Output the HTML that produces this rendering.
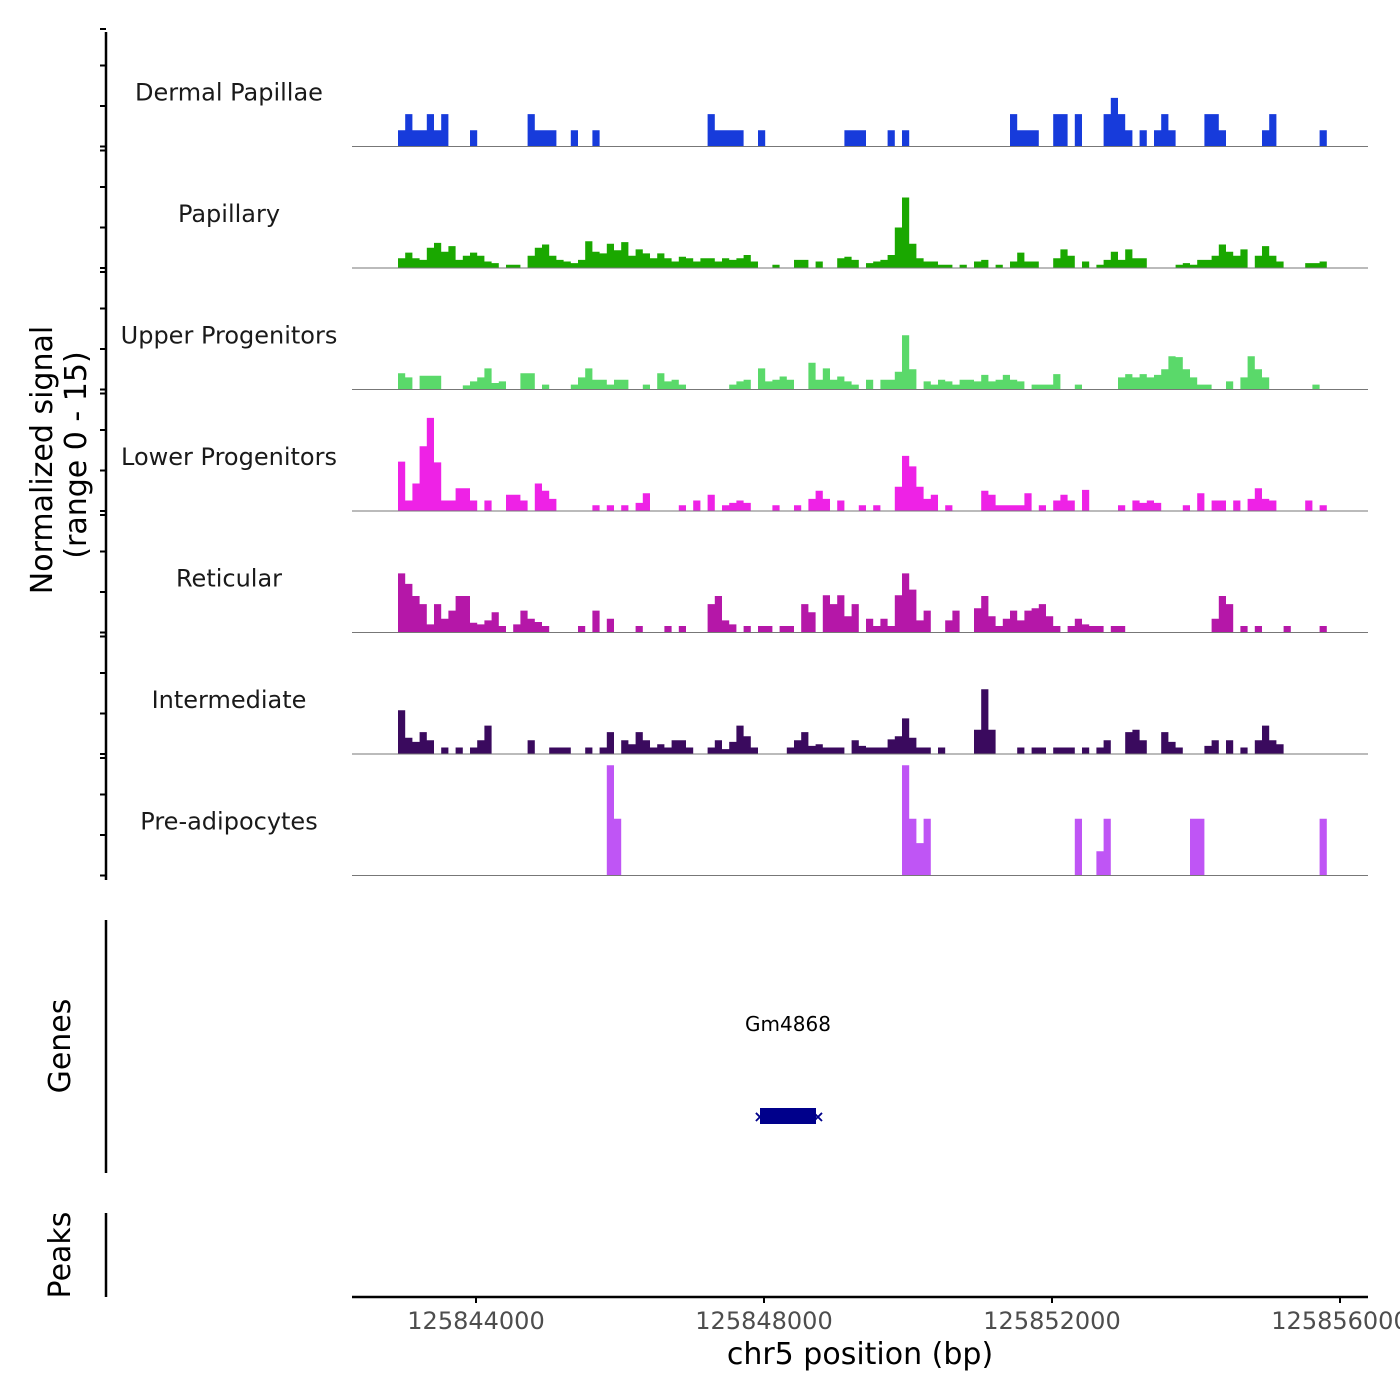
<!DOCTYPE html>
<html><head><meta charset="utf-8">
<style>
body{margin:0;background:#fff;}
svg{display:block;font-family:"DejaVu Sans","Liberation Sans",sans-serif;}
</style></head>
<body>
<svg id="chart" width="1400" height="1400" viewBox="0 0 1400 1400" xmlns="http://www.w3.org/2000/svg">
<g id="tracks"></g>
<g id="axes"></g>
<text transform="translate(52,460) rotate(-90)" text-anchor="middle" font-size="30" fill="#000">Normalized signal</text>
<text transform="translate(86,455) rotate(-90)" text-anchor="middle" font-size="30" fill="#000">(range 0 - 15)</text>
<text transform="translate(70,1046) rotate(-90)" text-anchor="middle" font-size="30" fill="#000">Genes</text>
<text transform="translate(70,1255) rotate(-90)" text-anchor="middle" font-size="30" fill="#000">Peaks</text>
<line x1="106" y1="920" x2="106" y2="1173" stroke="#000" stroke-width="2.5"/>
<line x1="106" y1="1213" x2="106" y2="1297" stroke="#000" stroke-width="2.5"/>
<text x="788" y="1031" text-anchor="middle" font-size="20" fill="#000">Gm4868</text>
<rect x="760" y="1108" width="56" height="16" fill="#00008b"/>
<text x="818" y="1122" text-anchor="middle" font-size="16" font-weight="bold" fill="#00008b">×</text>
<text x="760" y="1122" text-anchor="middle" font-size="16" font-weight="bold" fill="#00008b">×</text>
<text x="860" y="1364" text-anchor="middle" font-size="30" fill="#000">chr5 position (bp)</text>
</svg>
<script>
const trackNames = ["Dermal Papillae","Papillary","Upper Progenitors","Lower Progenitors","Reticular","Intermediate","Pre-adipocytes"];
const trackColors = ["#173bdb","#1aa800","#5ad96a","#ee22e6","#b517a8","#3a0a5e","#bf55f5"];
const xTicks = [125844000,125848000,125852000,125856000];
const binStart = 125842917;
const binSize = 100;
const NB = 129;
const dermalPapillae = {0:2,1:4,2:2,3:2,4:4,5:2,6:4,10:2,18:4,19:2,20:2,21:2,24:2,27:2,43:4,44:2,45:2,46:2,47:2,50:2,62:2,63:2,64:2,68:2,70:2,85:4,86:2,87:2,88:2,91:4,92:4,94:4,98:4,99:6,100:4,101:2,103:2,105:2,106:4,107:2,112:4,113:4,114:2,120:2,121:4,128:2};
const papillary = {0:1.2,1:1.9,2:1.2,3:1,4:2.5,5:3.1,6:2,7:2.7,8:1,9:1.5,10:1.9,11:1.5,12:0.8,13:0.6,15:0.4,16:0.4,18:1.5,19:2.5,20:2.9,21:1.5,22:1,23:0.8,24:0.6,25:1,26:3.3,27:2,28:1.8,29:3,30:2.2,31:3.2,32:1.5,33:2.3,34:1.8,35:1.2,36:1.8,37:1.2,38:0.8,39:1.4,40:1.2,41:0.8,42:1.2,43:1.2,44:0.8,45:1.2,46:1,47:1.2,48:1.6,49:0.8,52:0.4,55:1,56:1,58:0.8,61:1.2,62:1.4,63:1,65:0.6,66:0.8,67:1,68:1.6,69:5,70:8.7,71:3,72:1.2,73:0.8,74:0.8,75:0.4,76:0.4,78:0.4,80:0.8,81:1,83:0.4,85:0.8,86:1.9,87:0.8,88:0.8,91:1.2,92:2.3,93:1.5,95:0.8,97:0.4,98:1,99:2,100:1,101:2.3,102:1.2,103:1.2,108:0.4,109:0.6,110:0.4,111:1,112:1,113:1.5,114:2.9,115:2,116:1.5,117:2.3,119:1.5,120:2.7,121:1.5,122:0.8,126:0.6,127:0.6,128:0.8};
const upperProgenitors = {0:2,1:1.5,3:1.7,4:1.7,5:1.7,9:0.5,10:1,11:1.5,12:2.6,13:0.8,14:1,17:2,18:2,20:0.6,24:0.6,25:1.5,26:2.6,27:1.2,28:1.2,29:0.6,30:1.2,31:1.2,34:0.6,36:2,37:1,38:1.2,39:0.6,46:0.6,47:1,48:1.2,50:2.6,51:1,52:1.2,53:1.6,54:1.2,57:3.3,58:1.2,59:2.6,60:1.2,61:1.6,62:1,63:0.6,65:1.2,67:1.2,68:1.2,69:2.2,70:6.7,71:2.5,73:1,74:0.6,75:1.2,76:1,77:0.6,78:1.2,79:1.2,80:1,81:1.8,82:1,83:1.2,84:1.8,85:1.2,86:1,88:0.6,89:0.6,90:0.6,91:1.9,94:0.6,100:1.5,101:1.9,102:1.5,103:1.9,104:1.5,105:1.8,106:2.5,107:4.1,108:4,109:2.5,110:1.5,111:0.6,112:0.6,115:1,117:1.5,118:4.1,119:2.5,120:1.5,127:0.6};
const lowerProgenitors = {0:6.1,1:1.3,2:3.4,3:8,4:11.5,5:6,6:1.3,7:1.3,8:2.8,9:2.8,10:1.3,12:1.3,15:2,16:2,17:1.3,19:3.4,20:2.5,21:1.5,27:0.7,29:0.7,31:0.7,33:1,34:2.2,39:0.7,41:1.3,43:2,45:0.7,46:1,47:1.3,48:1,52:0.7,55:0.7,57:1.5,58:2.5,59:1.5,61:1.3,64:0.7,66:0.7,69:3,70:6.8,71:5.5,72:3,73:1.5,74:2,76:0.7,81:2.5,82:2,83:0.7,84:0.7,85:0.7,86:0.7,87:2.2,89:0.7,91:1.3,92:2,93:1.3,95:2.6,100:0.7,102:1.3,103:1,104:1.3,105:1,109:0.7,111:2.2,113:1.3,114:1.3,116:1.3,118:1.5,119:2.8,120:1.5,121:1.3,126:1.3,128:0.7};
const reticular = {0:7.3,1:6,2:4.5,3:3.5,4:1,5:3.5,6:1.7,7:2.7,8:4.5,9:4.5,10:1.2,11:1,12:1.5,13:2.5,14:0.8,16:1,17:2.7,18:1.7,19:1.3,20:0.8,25:0.8,27:2.7,29:1.7,33:0.8,37:0.8,39:0.8,43:3.5,44:4.5,45:1.5,46:1,48:0.8,50:0.8,51:0.8,53:0.8,54:0.8,56:3.5,57:2.5,59:4.6,60:3.5,61:4.6,62:2,63:3.5,65:1.7,66:0.8,67:1.7,68:0.8,69:4.6,70:7.3,71:5.3,72:1.5,73:2.7,76:1.5,77:2.7,80:3,81:4.5,82:2,83:0.8,84:1.7,85:2.7,86:1.5,87:2.7,88:3,89:3.5,90:2,91:0.8,93:0.8,94:1.7,95:1,96:0.8,97:0.8,99:0.8,100:0.8,113:1.7,114:4.5,115:3.5,117:0.8,119:0.8,123:0.8,128:0.8};
const intermediate = {0:5.4,1:2,2:1.5,3:2.7,4:1.7,6:0.8,8:0.8,10:0.8,11:1.7,12:3.5,18:1.7,21:0.8,22:0.8,23:0.8,26:0.8,28:0.8,29:2.7,31:1.7,32:1.2,33:2.7,34:1.7,35:0.8,36:1.2,37:0.8,38:1.7,39:1.7,40:0.8,43:0.8,44:1.7,45:0.6,46:1.5,47:3.5,48:2.2,49:0.8,54:0.8,55:1.7,56:2.7,57:1,58:1.2,59:0.8,60:0.8,61:0.8,63:1.7,64:1,65:0.8,66:0.8,67:0.8,68:1.8,69:2.2,70:4.4,71:2,72:0.8,73:0.8,75:0.8,80:3,81:8,82:3,86:0.8,88:0.8,89:0.8,91:0.8,92:0.8,93:0.8,95:0.8,97:0.8,98:1.7,101:2.7,102:3,103:1.7,106:2.7,107:1.5,108:0.8,112:1,113:1.7,115:1.7,117:0.8,119:1.7,120:3.5,121:1.7,122:1.2};
const preAdipocytes = {29:13.6,30:7,70:13.6,71:7,72:4,73:7,94:7,97:3,98:7,110:7,111:7,128:7};
const trackData = [dermalPapillae,papillary,upperProgenitors,lowerProgenitors,reticular,intermediate,preAdipocytes];

const NS="http://www.w3.org/2000/svg";
const X0=352, X1=1368, TOP=25, TH=121.5, YMAX=15;
function xScale(bp){return 476+(bp-125844000)*0.072;}
function base(t){return TOP+TH*(t+1);}
function yScale(t,v){return base(t)-v/YMAX*TH;}
const tracksG=document.getElementById('tracks');
const axesG=document.getElementById('axes');
trackData.forEach((d,t)=>{
  const b=base(t);
  let p="";
  let inRun=false;
  for(let i=0;i<=NB;i++){
    const v=d[i]||0;
    const xa=xScale(binStart+i*binSize), xb=xScale(binStart+(i+1)*binSize);
    if(v>0){
      if(!inRun){p+="M"+xa.toFixed(1)+","+b;inRun=true;}
      const y=yScale(t,v).toFixed(1);
      p+=" L"+xa.toFixed(1)+","+y+" L"+xb.toFixed(1)+","+y;
    } else if(inRun){p+=" L"+xa.toFixed(1)+","+b+" Z ";inRun=false;}
  }
  const path=document.createElementNS(NS,'path');
  path.setAttribute('d',p);
  path.setAttribute('fill',trackColors[t]);
  
  
  tracksG.appendChild(path);
  const ln=document.createElementNS(NS,'line');
  ln.setAttribute('x1',X0);ln.setAttribute('x2',X1);ln.setAttribute('y1',b);ln.setAttribute('y2',b);
  ln.setAttribute('stroke','#777');ln.setAttribute('stroke-width','1');
  
  
  tracksG.appendChild(ln);
  const lb=document.createElementNS(NS,'text');
  lb.setAttribute('x',229);lb.setAttribute('y',b-46);
  lb.setAttribute('text-anchor','middle');lb.setAttribute('font-size','24');lb.setAttribute('fill','#1a1a1a');
  lb.textContent=trackNames[t];
  
  
  tracksG.appendChild(lb);
  [0,5,10,15].forEach(v=>{
    const tk=document.createElementNS(NS,'line');
    const y=yScale(t,v)+(v===15?4:0);
    tk.setAttribute('x1',100);tk.setAttribute('x2',106);tk.setAttribute('y1',y);tk.setAttribute('y2',y);
    tk.setAttribute('stroke','#000');tk.setAttribute('stroke-width','2');
    
    
    axesG.appendChild(tk);
  });
});
const ya=document.createElementNS(NS,'line');
ya.setAttribute('x1',106);ya.setAttribute('x2',106);ya.setAttribute('y1',32);ya.setAttribute('y2',880);
ya.setAttribute('stroke','#000');ya.setAttribute('stroke-width','2.5');


axesG.appendChild(ya);
const xa=document.createElementNS(NS,'line');
xa.setAttribute('x1',X0);xa.setAttribute('x2',X1);xa.setAttribute('y1',1297);xa.setAttribute('y2',1297);
xa.setAttribute('stroke','#000');xa.setAttribute('stroke-width','2.5');


axesG.appendChild(xa);
xTicks.forEach(v=>{
  const x=xScale(v);
  const tk=document.createElementNS(NS,'line');
  tk.setAttribute('x1',x);tk.setAttribute('x2',x);tk.setAttribute('y1',1297);tk.setAttribute('y2',1303);
  tk.setAttribute('stroke','#000');tk.setAttribute('stroke-width','2');
  
  
  axesG.appendChild(tk);
  const tl=document.createElementNS(NS,'text');
  tl.setAttribute('x',x);tl.setAttribute('y',1329);tl.setAttribute('text-anchor','middle');
  tl.setAttribute('font-size','24');tl.setAttribute('fill','#4d4d4d');
  tl.textContent=v;
  
  
  axesG.appendChild(tl);
});
</script>
</body></html>
